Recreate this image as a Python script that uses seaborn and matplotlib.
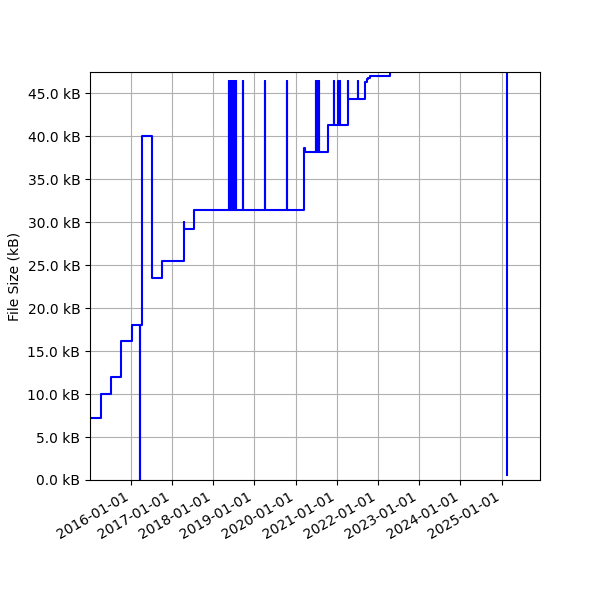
import matplotlib
matplotlib.use("Agg")
import matplotlib.pyplot as plt
import matplotlib.dates as mdates
from matplotlib.ticker import MultipleLocator, FuncFormatter
import seaborn as sns
import pandas as pd

# Baseline step changes (date, size in kB)
step_dates = [
    "2015-01-01", "2015-04-10", "2015-07-10", "2015-10-09", "2016-01-10",
    "2016-03-21", "2016-03-24", "2016-04-10", "2016-07-08", "2016-10-04",
    "2017-04-15", "2017-04-20", "2017-07-12", "2020-03-18", "2020-03-27",
    "2020-10-13", "2021-04-10", "2021-09-10", "2021-09-23", "2021-10-08",
    "2021-10-22", "2022-04-17", "2025-02-17",
]
step_sizes = [
    7.17, 9.96, 12.0, 16.16, 18.06,
    0.0, 18.06, 40.0, 23.45, 25.43,
    29.97, 29.2, 31.36, 38.6, 38.2,
    41.24, 44.27, 46.3, 46.6, 46.8,
    47.0, 49.0, 0.6,
]

# Short-lived spikes up to the spike size, returning to the baseline
spike_dates = [
    "2018-05-23", "2018-05-31", "2018-06-08", "2018-06-16", "2018-06-24",
    "2018-07-02", "2018-07-10", "2018-07-19", "2018-09-19", "2019-04-06",
    "2019-10-15", "2020-06-28", "2020-07-05", "2020-07-12", "2020-07-19",
    "2020-07-27", "2020-12-04", "2021-01-15", "2021-01-30", "2021-04-08",
    "2021-07-10",
]
spike_size = 46.4

# Build the combined series
steps = pd.DataFrame({"date": pd.to_datetime(step_dates), "size": step_sizes})
rows = [(d, s) for d, s in zip(steps["date"], steps["size"])]
for sd in pd.to_datetime(spike_dates):
    base = steps.loc[steps["date"] <= sd, "size"].iloc[-1]
    rows.append((sd, spike_size))
    rows.append((sd + pd.Timedelta(days=1), base))
df = pd.DataFrame(rows, columns=["date", "size"]).sort_values("date").reset_index(drop=True)

fig, ax = plt.subplots(figsize=(6, 6), dpi=100)
fig.subplots_adjust(left=0.15, right=0.9, bottom=0.2, top=0.88)

sns.lineplot(data=df, x="date", y="size", ax=ax, color="blue",
             drawstyle="steps-post", estimator=None, sort=False, linewidth=1.5)

ax.set_xlim(pd.Timestamp("2015-01-05"), pd.Timestamp("2025-12-06"))
ax.set_ylim(0, 47.45)
ax.yaxis.set_major_locator(MultipleLocator(5))
ax.yaxis.set_major_formatter(FuncFormatter(lambda v, p: f"{v:.1f} kB"))
ax.xaxis.set_major_locator(mdates.YearLocator())
ax.xaxis.set_major_formatter(mdates.DateFormatter("%Y-%m-%d"))
ax.grid(True, color="#b0b0b0", linewidth=0.8)
ax.set_axisbelow(True)
ax.set_xlabel("")
ax.set_ylabel("File Size (kB)")
for lbl in ax.get_xticklabels():
    lbl.set_rotation(30)
    lbl.set_ha("right")

fig.savefig("out.png", dpi=100)
